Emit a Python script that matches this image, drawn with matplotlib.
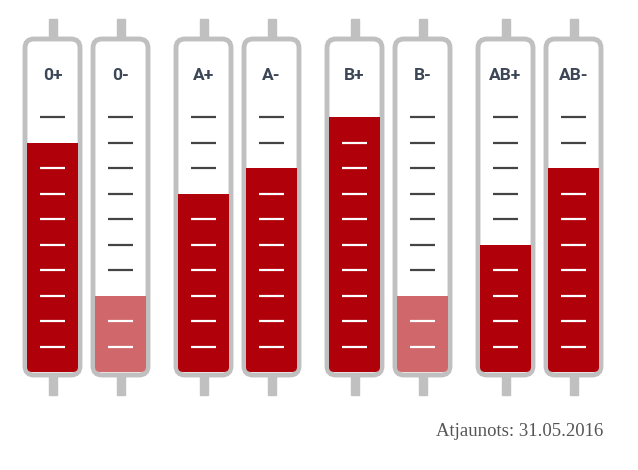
import matplotlib
matplotlib.use("Agg")
import matplotlib.pyplot as plt
from matplotlib.patches import FancyBboxPatch, Rectangle

# blood stock levels (units of the tube scale, ticks at 1..10)
blood_types = ['0+', '0-', 'A+', 'A-', 'B+', 'B-', 'AB+', 'AB-']
levels = [9, 3, 7, 8, 10, 3, 5, 8]
ticks = list(range(1, 11))
updated = 'Atjaunots: 31.05.2016'

dark_red = '#b00009'
light_red = '#d0676b'
grey = '#c0c0c0'

fig = plt.figure(figsize=(6.38, 4.70), dpi=100)
ax = fig.add_axes([0, 0, 1, 1])
ax.set_xlim(0, 638)
# pixel y = 372 - 25.5 * level
ax.set_ylim((372 - 470) / 25.5, 372 / 25.5)
ax.axis('off')

px = 1 / 25.5  # one pixel in level units

for i, (bt, lev) in enumerate(zip(blood_types, levels)):
    cx = 52.5 + 68 * i + 15 * (i // 2)
    top = (372 - 39) / 25.5
    bot = (372 - 375) / 25.5

    # stems
    ax.add_patch(Rectangle((cx - 4, top), 8, 20 * px, color=grey, zorder=1))
    ax.add_patch(Rectangle((cx - 4, bot - 20 * px), 8, 20 * px, color=grey, zorder=1))

    # tube body
    body = FancyBboxPatch((cx - 27.5, bot), 55, top - bot,
                          boxstyle='round,pad=0,rounding_size=9',
                          mutation_aspect=px,
                          facecolor='white', edgecolor=grey, linewidth=3.5, zorder=2)
    ax.add_patch(body)

    # fill
    col = light_red if lev <= 3 else dark_red
    inner = FancyBboxPatch((cx - 25.5, bot + 3 * px), 51, top - bot - 6 * px,
                           boxstyle='round,pad=0,rounding_size=5',
                           mutation_aspect=px, facecolor='none', edgecolor='none')
    ax.add_patch(inner)
    fill = Rectangle((cx - 25.5, bot + 3 * px), 51, lev - (bot + 3 * px),
                     facecolor=col, edgecolor='none', zorder=3)
    ax.add_patch(fill)
    fill.set_clip_path(inner)

    # scale ticks (the one at the fill line is hidden)
    for t in ticks:
        if t == lev:
            continue
        c = 'white' if t < lev else '#444444'
        ax.plot([cx - 12.5, cx + 12.5], [t, t], color=c, linewidth=1.6,
                solid_capstyle='butt', zorder=4)

    ax.text(cx, (372 - 76) / 25.5, bt, ha='center', va='center',
            fontsize=12.5, fontweight='bold', color='#3b4656',
            family='Roboto', zorder=5)

ax.text(603, (372 - 432) / 25.5, updated, ha='right', va='center',
        fontsize=13.5, color='#555555', family='Liberation Serif')

fig.savefig('out.png', dpi=100)
